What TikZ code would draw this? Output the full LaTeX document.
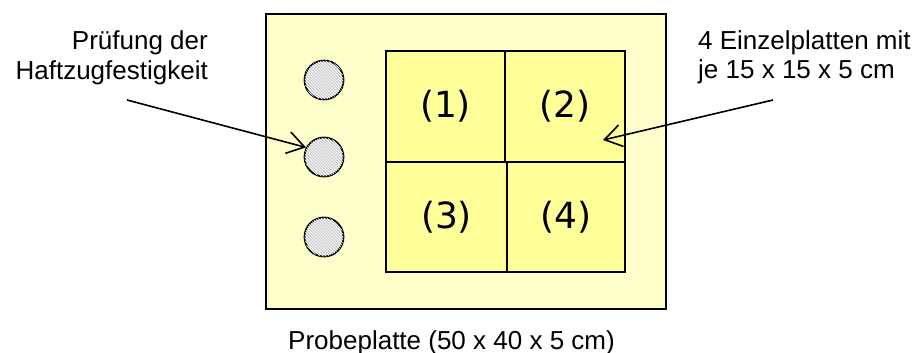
\documentclass[tikz,border=0pt]{standalone}
\usepackage{fontspec}
\setmainfont{Liberation Sans}
\newfontfamily\numfont{DejaVu Sans}
\usetikzlibrary{patterns,arrows.meta}
\definecolor{paleyellow}{HTML}{FFFFCC}
\definecolor{plateyellow}{HTML}{FFFF99}
\tikzset{
  probeplatte/.style={
    shape = rectangle,
    draw,
    line width = 2.2pt,
    fill = paleyellow,
    minimum width = 400pt,
    minimum height = 295pt,
    inner sep = 0pt
  },
}
\tikzset{
  einzel/.style={
    shape = rectangle,
    draw,
    line width = 2.2pt,
    fill = plateyellow,
    inner sep = 0pt,
    font = \numfont\fontsize{36}{40}\selectfont
  },
}
\tikzset{
  haftzug/.style={
    shape = circle,
    draw,
    line width = 1.8pt,
    minimum size = 39pt,
    inner sep = 0pt,
    fill = gray!35,
    postaction = {pattern = north west lines, pattern color = white}
  },
}
\tikzset{
  beschr/.style={
    font = \fontsize{26}{29}\selectfont,
    inner sep = 0pt
  },
  zeiger/.style={
    line width = 1.6pt,
    -{Straight Barb[length=17pt, width=22pt, line width=1.6pt]}
  }
}

\begin{document}
\begin{tikzpicture}[x=1pt, y=-1pt]
        \useasboundingbox (0,0) rectangle (921,353);
        \node[probeplatte] (platte) at (466,161.5) {};
        \node[einzel, minimum width=119pt, minimum height=111pt] (p1) at (445.5,106.5) {(1)};
        \node[einzel, minimum width=120pt, minimum height=111pt] (p2) at (565,106.5) {(2)};
        \node[einzel, minimum width=121pt, minimum height=110pt] (p3) at (446.5,217) {(3)};
        \node[einzel, minimum width=118pt, minimum height=110pt] (p4) at (566,217) {(4)};
        \node[haftzug] (hz1) at (324,80) {};
        \node[haftzug] (hz2) at (324,157) {};
        \node[haftzug] (hz3) at (324,237) {};
        \node[beschr, anchor=base east] (pruef1) at (208,50) {Prüfung der};
        \node[beschr, anchor=base east] (pruef2) at (208,79) {Haftzugfestigkeit};
        \node[beschr, anchor=base west] (einzel1) at (698,49) {4 Einzelplatten mit};
        \node[beschr, anchor=base west] (einzel2) at (698,78) {je 15 x 15 x 5 cm};
        \node[beschr, anchor=base west] (titel) at (288,349) {Probeplatte (50 x 40 x 5 cm)};
        \coordinate (pruefstart) at (127,100);
        \coordinate (einzelstart) at (773,100);
        \coordinate (einzelziel) at (603,140);
        \draw[zeiger] (pruefstart) -- (hz2.152);
        \draw[zeiger] (einzelstart) -- (einzelziel);
    \end{tikzpicture}
\end{document}
